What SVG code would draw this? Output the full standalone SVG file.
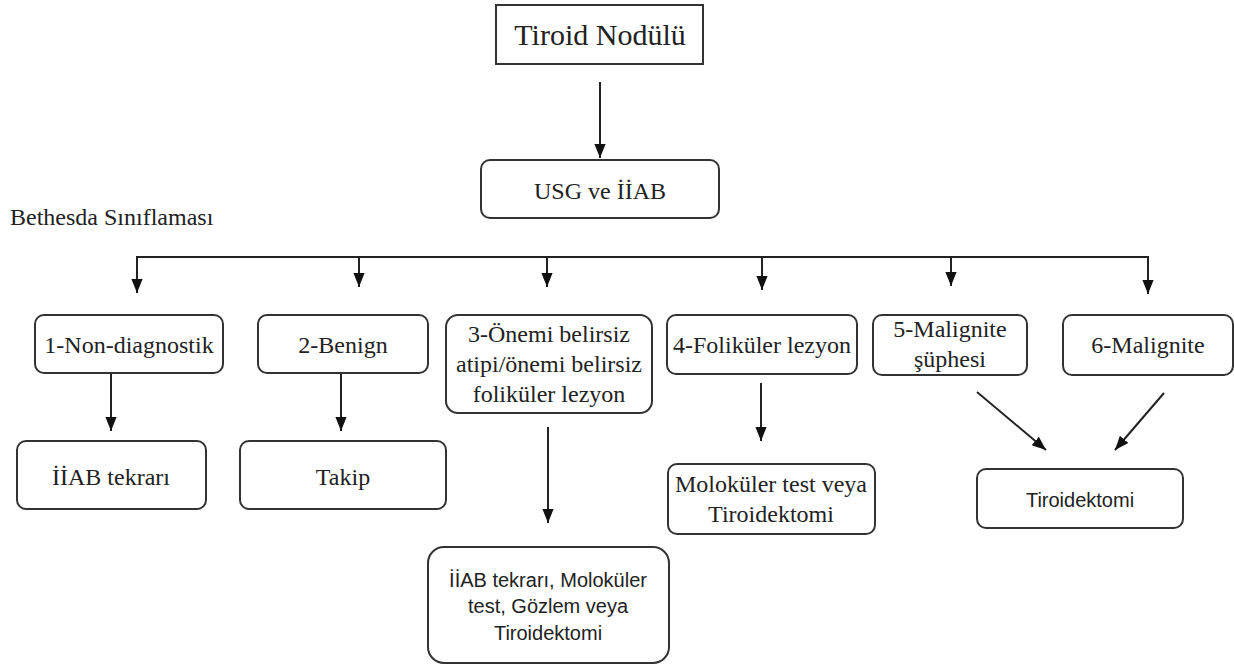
<svg xmlns="http://www.w3.org/2000/svg" width="1234" height="666" viewBox="0 0 1234 666">
<style>
.box{fill:#fff;stroke:#333;stroke-width:2}
.s{font-family:'Liberation Serif',Tinos,Times,'Nimbus Roman','DejaVu Serif',serif;font-size:24px;fill:#222;text-anchor:middle}
.a{font-family:'Liberation Sans',Arial,sans-serif;font-size:20px;fill:#222;text-anchor:middle}
.c{fill:none;stroke:#222;stroke-width:2}
</style>
<defs>
<marker id="ah2" viewBox="0 0 10 10" refX="10" refY="5" markerWidth="14" markerHeight="14" markerUnits="userSpaceOnUse" orient="auto"><path d="M0,1 L10,5 L0,9 z" fill="#111"/></marker>
</defs>
<rect width="1234" height="666" fill="#fff"/>
<g id="connectors">
<line class="c" x1="600" y1="82" x2="600" y2="158" marker-end="url(#ah2)"/>
<polyline class="c" points="137,291 137,257 1148,257 1148,293"/>
<line class="c" x1="137" y1="257" x2="137" y2="293" marker-end="url(#ah2)"/>
<line class="c" x1="359" y1="257" x2="359" y2="287" marker-end="url(#ah2)"/>
<line class="c" x1="547" y1="257" x2="547" y2="287" marker-end="url(#ah2)"/>
<line class="c" x1="762" y1="257" x2="762" y2="290" marker-end="url(#ah2)"/>
<line class="c" x1="951" y1="257" x2="951" y2="286" marker-end="url(#ah2)"/>
<line class="c" x1="1148" y1="257" x2="1148" y2="294" marker-end="url(#ah2)"/>
<line class="c" x1="111" y1="373" x2="111" y2="431" marker-end="url(#ah2)"/>
<line class="c" x1="341" y1="373" x2="341" y2="431" marker-end="url(#ah2)"/>
<line class="c" x1="548" y1="427" x2="548" y2="523" marker-end="url(#ah2)"/>
<line class="c" x1="761" y1="383" x2="761" y2="441" marker-end="url(#ah2)"/>
<line class="c" x1="977" y1="392" x2="1046" y2="450" marker-end="url(#ah2)"/>
<line class="c" x1="1164" y1="393" x2="1115" y2="450" marker-end="url(#ah2)"/>
</g>
<g id="n-tiroid"><rect class="box" x="496" y="5" width="207" height="59"/><text class="s" x="600" y="45" style="font-size:30px">Tiroid Nodülü</text></g>
<g id="n-usg"><rect class="box" x="481" y="160" width="238" height="58" rx="9"/><text class="s" x="600" y="199">USG ve İİAB</text></g>
<g id="n-bethesda"><text class="s" x="10" y="225" style="text-anchor:start;font-size:24px">Bethesda Sınıflaması</text></g>
<g id="n-1"><rect class="box" x="35" y="315" width="188" height="58" rx="9"/><text class="s" x="129" y="353">1-Non-diagnostik</text></g>
<g id="n-2"><rect class="box" x="258" y="315" width="170" height="58" rx="9"/><text class="s" x="343" y="353">2-Benign</text></g>
<g id="n-3"><rect class="box" x="446" y="315" width="206" height="98" rx="12"/><text class="s" x="549" y="342">3-Önemi belirsiz</text><text class="s" x="549" y="372">atipi/önemi belirsiz</text><text class="s" x="549" y="402">foliküler lezyon</text></g>
<g id="n-4"><rect class="box" x="667" y="315" width="190" height="59" rx="9"/><text class="s" x="762" y="353">4-Foliküler lezyon</text></g>
<g id="n-5"><rect class="box" x="873" y="315" width="154" height="60" rx="9"/><text class="s" x="950" y="337">5-Malignite</text><text class="s" x="950" y="367">şüphesi</text></g>
<g id="n-6"><rect class="box" x="1063" y="315" width="170" height="60" rx="9"/><text class="s" x="1148" y="353">6-Malignite</text></g>
<g id="n-iiab"><rect class="box" x="17" y="441" width="189" height="68" rx="9"/><text class="s" x="111" y="485">İİAB tekrarı</text></g>
<g id="n-takip"><rect class="box" x="240" y="441" width="206" height="68" rx="9"/><text class="s" x="343" y="485">Takip</text></g>
<g id="n-moloküler"><rect class="box" x="668" y="464" width="207" height="70" rx="9"/><text class="s" x="771" y="492">Moloküler test veya</text><text class="s" x="771" y="522">Tiroidektomi</text></g>
<g id="n-tiroidektomi"><rect class="box" x="977" y="469" width="206" height="59" rx="9"/><text class="a" x="1080" y="507">Tiroidektomi</text></g>
<g id="n-iiab2"><rect class="box" x="428" y="547" width="241" height="116" rx="16"/><text class="a" x="548" y="587">İİAB tekrarı, Moloküler</text><text class="a" x="548" y="613">test, Gözlem veya</text><text class="a" x="548" y="640">Tiroidektomi</text></g>
</svg>
